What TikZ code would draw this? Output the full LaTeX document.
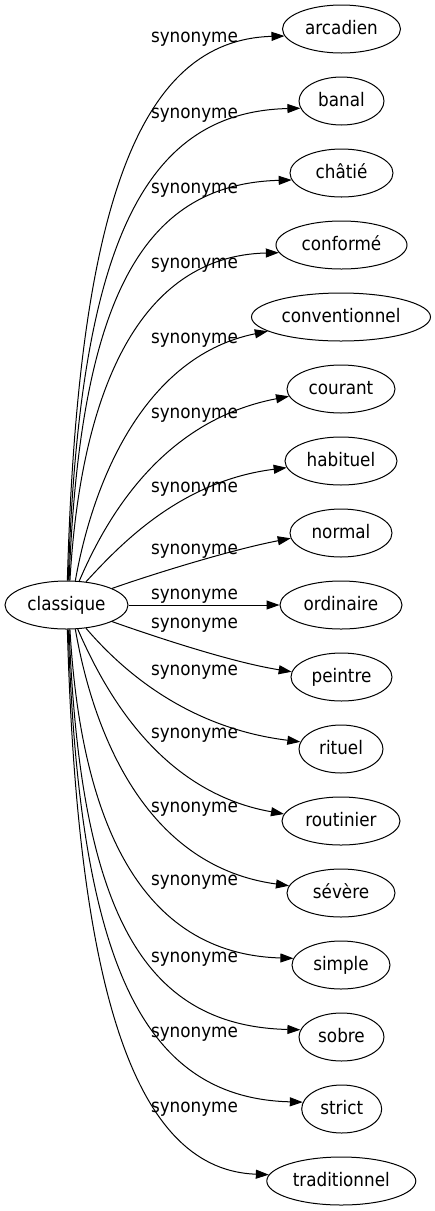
\documentclass[tikz,border=0pt]{standalone}
\usepackage{fontspec}
\setmainfont{DejaVu Sans Condensed}
\usetikzlibrary{arrows.meta,shapes.geometric}
\begin{document}
\begin{tikzpicture}[x=1pt,y=-1pt,
  every node/.style={font=\fontsize{18.67}{22}\selectfont, text height=14pt, text depth=2.8pt, inner sep=0pt},
  word/.style={draw, ellipse, minimum height=48pt, line width=1pt},
  edge/.style={-{Triangle[length=13pt,width=9pt]}, line width=1pt}]
\useasboundingbox (0,0) rectangle (435,1211);
% nodes
\node[word, minimum width=123pt] (classique) at (66.5,605) {classique};
\node[word, minimum width=118pt] (arcadien) at (341.5,29) {arcadien};
\node[word, minimum width=85pt] (banal) at (341.5,101) {banal};
\node[word, minimum width=103pt] (chatie) at (341.5,173) {châtié};
\node[word, minimum width=131pt] (conforme) at (341.5,245) {conformé};
\node[word, minimum width=179pt] (conventionnel) at (341,317) {conventionnel};
\node[word, minimum width=108pt] (courant) at (341,389) {courant};
\node[word, minimum width=112pt] (habituel) at (341,461) {habituel};
\node[word, minimum width=102pt] (normal) at (341,533) {normal};
\node[word, minimum width=122pt] (ordinaire) at (341,605) {ordinaire};
\node[word, minimum width=101pt] (peintre) at (341.5,677) {peintre};
\node[word, minimum width=84pt] (rituel) at (341,749) {rituel};
\node[word, minimum width=118pt] (routinier) at (341,821) {routinier};
\node[word, minimum width=108pt] (severe) at (341,893) {sévère};
\node[word, minimum width=98pt] (simple) at (341,965) {simple};
\node[word, minimum width=85pt] (sobre) at (341.5,1037) {sobre};
\node[word, minimum width=80pt] (strict) at (341.7,1109) {strict};
\node[word, minimum width=149pt] (traditionnel) at (341.3,1181) {traditionnel};
% labels
\node (l1) at (194.5,37) {synonyme};
\node (l2) at (194.5,113) {synonyme};
\node (l3) at (194.5,188) {synonyme};
\node (l4) at (194.5,263) {synonyme};
\node (l5) at (194.5,338) {synonyme};
\node (l6) at (194.5,413) {synonyme};
\node (l7) at (194.5,487) {synonyme};
\node (l8) at (194.5,549) {synonyme};
\node (l9) at (194.5,594) {synonyme};
\node (l10) at (194.5,623) {synonyme};
\node (l11) at (194.5,670) {synonyme};
\node (l12) at (194.5,733) {synonyme};
\node (l13) at (194.5,807) {synonyme};
\node (l14) at (194.5,880) {synonyme};
\node (l15) at (194.5,957) {synonyme};
\node (l16) at (194.5,1032) {synonyme};
\node (l17) at (194.5,1107) {synonyme};
% edges
\draw[edge] (classique.88) .. controls (78,202) and (140,40) .. (arcadien.187);
\draw[edge] (classique.86) .. controls (79,252) and (140,112) .. (banal.190);
\draw[edge] (classique.84) .. controls (80,303) and (140,184) .. (chatie.188);
\draw[edge] (classique.82) .. controls (81,389) and (140,256) .. (conforme.187);
\draw[edge] (classique.70) .. controls (95,470) and (150,355) .. (conventionnel.191);
\draw[edge] (classique.62) .. controls (105,521) and (160,421) .. (courant.188);
\draw[edge] (classique.50) .. controls (120,545) and (180,481) .. (habituel.187);
\draw[edge] (classique.20) .. controls (150,575) and (230,550) .. (normal.186);
\draw[edge] (classique.east) -- (ordinaire.west);
\draw[edge] (classique.-20) .. controls (150,635) and (230,662) .. (peintre.174);
\draw[edge] (classique.-50) .. controls (115,662) and (180,727) .. (rituel.170);
\draw[edge] (classique.-65) .. controls (105,692) and (160,792) .. (routinier.173);
\draw[edge] (classique.-70) .. controls (95,742) and (150,867) .. (severe.172);
\draw[edge] (classique.-82) .. controls (81,821) and (140,954) .. (simple.172);
\draw[edge] (classique.-84) .. controls (80,907) and (140,1026) .. (sobre.170);
\draw[edge] (classique.-86) .. controls (79,958) and (140,1098) .. (strict.170);
\draw[edge] (classique.-88) .. controls (78,1008) and (140,1170) .. (traditionnel.175);
\end{tikzpicture}
\end{document}
